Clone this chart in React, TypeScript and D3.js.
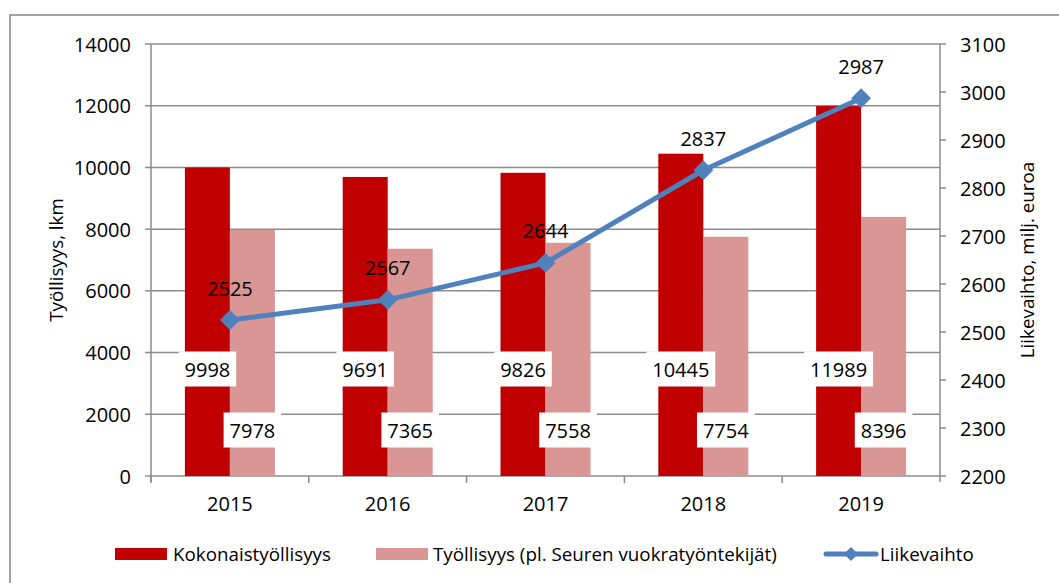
import React from "react";
import * as d3 from "d3";

const years = ["2015", "2016", "2017", "2018", "2019"];
const kokonais = [9998, 9691, 9826, 10445, 11989];
const tyollisyys = [7978, 7365, 7558, 7754, 8396];
const liikevaihto = [2525, 2567, 2644, 2837, 2987];
const leftTicks = [0, 2000, 4000, 6000, 8000, 10000, 12000, 14000];
const rightTicks = [2200, 2300, 2400, 2500, 2600, 2700, 2800, 2900, 3000, 3100];

const W = 1059, H = 583;
const M = { left: 151, right: 940, top: 44, bottom: 476 };
const RED = "#C00000";
const PINK = "#D99694";
const BLUE = "#4F81BD";
const GRID = "#8C8C8C";
const FONT = "'Open Sans', sans-serif";
const FS = 20;

export default function App() {
  const x = d3.scaleBand().domain(years).range([M.left, M.right]).paddingInner(0).paddingOuter(0);
  const yL = d3.scaleLinear().domain([0, 14000]).range([M.bottom, M.top]);
  const yR = d3.scaleLinear().domain([2200, 3100]).range([M.bottom, M.top]);
  const bw = 45;
  const cx = (y: string) => (x(y) as number) + x.bandwidth() / 2;

  const line = d3.line<number>()
    .x((_, i) => cx(years[i]))
    .y((v) => yR(v));

  const labelBox = (text: string, xc: number, yc: number, key: string) => {
    const w = text.length * 11.4 + 12;
    return (
      <g key={key}>
        <rect x={xc - w / 2} y={yc - 17.5} width={w} height={35} fill="#fff" />
        <text x={xc} y={yc} textAnchor="middle" dominantBaseline="central" fontSize={FS} fontFamily={FONT} fill="#000">{text}</text>
      </g>
    );
  };

  return (
    <svg width={W} height={H} style={{ position: "absolute", left: 0, top: 0, background: "#fff" }}>
      <rect x={10} y={15} width={W + 20} height={H + 20} fill="#fff" stroke="#868686" strokeWidth={1.5} />
      {/* gridlines */}
      {leftTicks.map((t) => (
        <line key={"g" + t} x1={M.left - 6} x2={M.right} y1={yL(t)} y2={yL(t)} stroke={GRID} strokeWidth={1.5} />
      ))}
      {/* left axis */}
      <line x1={M.left} x2={M.left} y1={M.top} y2={M.bottom + 6} stroke={GRID} strokeWidth={1.5} />
      {leftTicks.map((t) => (
        <text key={"lt" + t} x={131} y={yL(t)} textAnchor="end" dominantBaseline="central" fontSize={FS} fontFamily={FONT}>{t}</text>
      ))}
      {/* right axis */}
      <line x1={M.right} x2={M.right} y1={M.top} y2={M.bottom + 6} stroke={GRID} strokeWidth={1.5} />
      {rightTicks.map((t) => (
        <g key={"rt" + t}>
          <line x1={M.right} x2={M.right + 6} y1={yR(t)} y2={yR(t)} stroke={GRID} strokeWidth={1.5} />
          <text x={960} y={yR(t)} textAnchor="start" dominantBaseline="central" fontSize={FS} fontFamily={FONT}>{t}</text>
        </g>
      ))}
      {/* x ticks */}
      {years.map((y) => (
        <line key={"xt" + y} x1={x(y)} x2={x(y)} y1={M.bottom} y2={M.bottom + 7} stroke={GRID} strokeWidth={1.5} />
      ))}
      {years.map((y) => (
        <text key={"xl" + y} x={cx(y)} y={503} textAnchor="middle" dominantBaseline="central" fontSize={FS} fontFamily={FONT}>{y}</text>
      ))}
      {/* bars */}
      {years.map((y, i) => (
        <g key={"b" + y}>
          <rect x={cx(y) - bw} y={yL(kokonais[i])} width={bw} height={yL(0) - yL(kokonais[i])} fill={RED} />
          <rect x={cx(y)} y={yL(tyollisyys[i])} width={bw} height={yL(0) - yL(tyollisyys[i])} fill={PINK} />
        </g>
      ))}
      {/* bar labels */}
      {years.map((y, i) => labelBox(String(kokonais[i]), cx(y) - bw / 2, 369, "rl" + y))}
      {years.map((y, i) => labelBox(String(tyollisyys[i]), cx(y) + bw / 2, 430, "pl" + y))}
      {/* line */}
      <path d={line(liikevaihto) || ""} fill="none" stroke={BLUE} strokeWidth={5} strokeLinejoin="round" />
      {liikevaihto.map((v, i) => (
        <rect key={"m" + i} x={cx(years[i]) - 7} y={yR(v) - 7} width={14} height={14} fill={BLUE}
          transform={`rotate(45 ${cx(years[i])} ${yR(v)})`} />
      ))}
      {liikevaihto.map((v, i) => (
        <text key={"ll" + i} x={cx(years[i])} y={yR(v) - 32} textAnchor="middle" dominantBaseline="central" fontSize={FS} fontFamily={FONT}>{v}</text>
      ))}
      {/* axis titles */}
      <text transform="translate(56,260) rotate(-90)" textAnchor="middle" dominantBaseline="central" fontSize={18.8} fontFamily={FONT}>Työllisyys, lkm</text>
      <text transform="translate(1027,260) rotate(-90)" textAnchor="middle" dominantBaseline="central" fontSize={18.8} fontFamily={FONT}>Liikevaihto, milj. euroa</text>
      {/* legend */}
      <rect x={115} y={548} width={52} height={12} fill={RED} />
      <text x={173} y={554} dominantBaseline="central" fontSize={18.8} fontFamily={FONT}>Kokonaistyöllisyys</text>
      <rect x={376} y={548} width={52} height={12} fill={PINK} />
      <text x={433} y={554} dominantBaseline="central" fontSize={18.8} fontFamily={FONT}>Työllisyys (pl. Seuren vuokratyöntekijät)</text>
      <line x1={826} x2={876} y1={554} y2={554} stroke={BLUE} strokeWidth={5} strokeLinecap="round" />
      <rect x={846} y={549} width={10} height={10} fill={BLUE} transform="rotate(45 851 554)" />
      <text x={880} y={554} dominantBaseline="central" fontSize={18.8} fontFamily={FONT}>Liikevaihto</text>
    </svg>
  );
}
